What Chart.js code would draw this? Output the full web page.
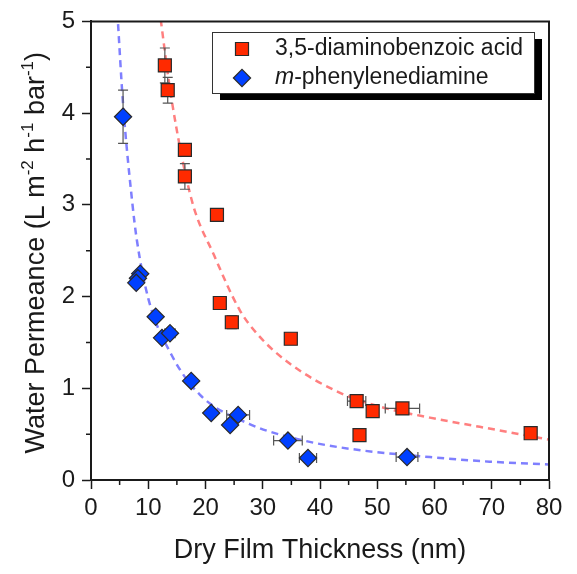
<!DOCTYPE html>
<html>
<head>
<meta charset="utf-8">
<script src="https://cdn.jsdelivr.net/npm/chart.js@4.4.0/dist/chart.umd.min.js"></script>
<style>
  html, body { margin: 0; padding: 0; background: #fff; }
  #wrap { width: 577px; height: 574px; }
</style>
</head>
<body>
<div id="wrap"><canvas id="chart" width="577" height="574"></canvas></div>
<script>
"use strict";

// 3,5-diaminobenzoic acid
const daxThickness = [12.9, 13.4, 16.4, 16.4, 22.0, 22.5, 24.6, 34.9, 46.4, 49.2, 54.4, 46.9, 76.8];
const daxFlux      = [4.52, 4.25, 3.60, 3.31, 2.89, 1.93, 1.72, 1.54, 0.86, 0.75, 0.78, 0.49, 0.51];
const daxFluxErr   = [0.19, 0.14, 0.03, 0.14, 0, 0, 0.07, 0, 0, 0, 0, 0, 0];
const daxThickErr  = [0, 0, 0, 0, 0, 0, 0, 0, 1.6, 0, 3.0, 0, 0];

// m-phenylenediamine
const mpdThickness = [5.6, 8.6, 8.2, 7.9, 11.3, 12.4, 13.8, 17.5, 21.0, 24.3, 25.7, 34.4, 37.9, 55.2];
const mpdFlux      = [3.96, 2.25, 2.20, 2.15, 1.78, 1.55, 1.60, 1.08, 0.73, 0.60, 0.71, 0.43, 0.24, 0.25];
const mpdFluxErr   = [0.29, 0, 0, 0, 0, 0, 0, 0, 0, 0, 0, 0, 0, 0];
const mpdThickErr  = [0, 0, 0, 0, 0, 0, 0.9, 0, 0, 0, 2.0, 2.5, 1.5, 1.9];

// dashed fit curves
const daxFitX = [11.9, 14.1, 17.6, 21.5, 26.0, 29.5, 34.7, 43.5, 50.4, 59.2, 67.9, 80];
const daxFitY = [5.15, 4.14, 3.05, 2.45, 1.85, 1.56, 1.27, 0.95, 0.80, 0.68, 0.58, 0.44];
const mpdFitX = [4.6, 5.6, 7.2, 8.0, 10.0, 14.1, 19.0, 27.7, 36.5, 45.2, 59.2, 69.6, 80];
const mpdFitY = [5.1, 4.1, 3.03, 2.62, 1.98, 1.36, 0.93, 0.61, 0.44, 0.34, 0.25, 0.20, 0.17];

const xTicks = [0, 10, 20, 30, 40, 50, 60, 70, 80];
const yTicks = [0, 1, 2, 3, 4, 5];
const xMinorTicks = [5, 15, 25, 35, 45, 55, 65, 75];
const yMinorTicks = [0.5, 1.5, 2.5, 3.5, 4.5];

const RED = '#ff2a00';
const BLUE = '#0040ff';
const INK = '#1a1a1a';
const FONT = "'Liberation Sans', Arial, Helvetica, sans-serif";

Chart.defaults.font.family = FONT;
Chart.defaults.color = INK;

const toPoints = (xs, ys) => xs.map((x, i) => ({ x: x, y: ys[i] }));

// error bars go on top of the fit lines but under the markers
const errorBars = {
    id: 'errorBars',
    afterDatasetDraw(chart, args) {
        if (args.index !== 2) return;
        const ctx = chart.ctx;
        const xs = chart.scales.x, ys = chart.scales.y;
        const sets = [
            [daxThickness, daxFlux, daxThickErr, daxFluxErr],
            [mpdThickness, mpdFlux, mpdThickErr, mpdFluxErr]
        ];
        const cap = 5;
        ctx.save();
        ctx.strokeStyle = '#555';
        ctx.lineWidth = 1.2;
        sets.forEach(([tx, fy, ex, ey]) => {
            tx.forEach((x, i) => {
                const px = xs.getPixelForValue(x);
                const py = ys.getPixelForValue(fy[i]);
                ctx.beginPath();
                if (ey[i] > 0) {
                    const t = ys.getPixelForValue(fy[i] + ey[i]);
                    const b = ys.getPixelForValue(fy[i] - ey[i]);
                    ctx.moveTo(px, t); ctx.lineTo(px, b);
                    ctx.moveTo(px - cap, t); ctx.lineTo(px + cap, t);
                    ctx.moveTo(px - cap, b); ctx.lineTo(px + cap, b);
                }
                if (ex[i] > 0) {
                    const l = xs.getPixelForValue(x - ex[i]);
                    const r = xs.getPixelForValue(x + ex[i]);
                    ctx.moveTo(l, py); ctx.lineTo(r, py);
                    ctx.moveTo(l, py - cap); ctx.lineTo(l, py + cap);
                    ctx.moveTo(r, py - cap); ctx.lineTo(r, py + cap);
                }
                ctx.stroke();
            });
        });
        ctx.restore();
    }
};

// widths of a run of text pieces, some raised and smaller, some italic
function measurePieces(ctx, pieces, size) {
    return pieces.map(p => {
        ctx.font = (p.italic ? 'italic ' : '') + (p.sup ? Math.round(size * 0.62) : size) + 'px ' + FONT;
        return ctx.measureText(p.t).width;
    });
}

const frameAndLabels = {
    id: 'frameAndLabels',
    afterDraw(chart) {
        const ctx = chart.ctx;
        const a = chart.chartArea;
        const xs = chart.scales.x, ys = chart.scales.y;
        ctx.save();

        // closing frame on top and right
        ctx.strokeStyle = INK;
        ctx.lineWidth = 2;
        ctx.beginPath();
        ctx.moveTo(a.left, a.top); ctx.lineTo(a.right, a.top); ctx.lineTo(a.right, a.bottom);
        ctx.stroke();

        // minor ticks
        ctx.lineWidth = 1.5;
        ctx.beginPath();
        xMinorTicks.forEach(v => {
            const px = xs.getPixelForValue(v);
            ctx.moveTo(px, a.bottom); ctx.lineTo(px, a.bottom + 5);
        });
        yMinorTicks.forEach(v => {
            const py = ys.getPixelForValue(v);
            ctx.moveTo(a.left, py); ctx.lineTo(a.left - 5, py);
        });
        ctx.stroke();

        // y axis title with superscripts
        const size = 27;
        const pieces = [
            { t: 'Water Permeance (L m' }, { t: '-2', sup: true },
            { t: ' h' }, { t: '-1', sup: true },
            { t: ' bar' }, { t: '-1', sup: true }, { t: ')' }
        ];
        const widths = measurePieces(ctx, pieces, size);
        const total = widths.reduce((s, w) => s + w, 0);
        ctx.translate(44, (a.top + a.bottom) / 2 + 2);
        ctx.rotate(-Math.PI / 2);
        ctx.fillStyle = INK;
        ctx.textBaseline = 'alphabetic';
        let x = -total / 2;
        pieces.forEach((p, i) => {
            ctx.font = (p.sup ? Math.round(size * 0.62) : size) + 'px ' + FONT;
            ctx.fillText(p.t, x, p.sup ? -11 : 0);
            x += widths[i];
        });
        ctx.restore();

        // legend box with drop shadow
        ctx.save();
        const box = { l: 212, t: 32, r: 534, b: 93 };
        ctx.fillStyle = '#000';
        ctx.fillRect(box.l + 8, box.t + 7, box.r - box.l, box.b - box.t);
        ctx.fillStyle = '#fff';
        ctx.fillRect(box.l, box.t, box.r - box.l, box.b - box.t);
        ctx.strokeStyle = '#333';
        ctx.lineWidth = 1;
        ctx.strokeRect(box.l + 0.5, box.t + 0.5, box.r - box.l, box.b - box.t);

        const entries = [
            { ds: chart.data.datasets[0], y: 49, pieces: [{ t: '3,5-diaminobenzoic acid' }] },
            { ds: chart.data.datasets[1], y: 78, pieces: [{ t: 'm', italic: true }, { t: '-phenylenediamine' }] }
        ];
        entries.forEach(e => {
            ctx.fillStyle = e.ds.backgroundColor;
            ctx.strokeStyle = e.ds.borderColor;
            ctx.lineWidth = e.ds.borderWidth;
            Chart.helpers.drawPoint(ctx, { pointStyle: e.ds.pointStyle, radius: e.ds.pointRadius, rotation: 0, borderWidth: e.ds.borderWidth }, 242, e.y);
            const w = measurePieces(ctx, e.pieces, 23);
            let tx = 275;
            ctx.fillStyle = INK;
            ctx.textBaseline = 'middle';
            e.pieces.forEach((p, i) => {
                ctx.font = (p.italic ? 'italic ' : '') + '23px ' + FONT;
                ctx.fillText(p.t, tx, e.y);
                tx += w[i];
            });
        });
        ctx.restore();
    }
};

new Chart(document.getElementById('chart'), {
    type: 'scatter',
    data: {
        datasets: [{
            label: '3,5-diaminobenzoic acid',
            data: toPoints(daxThickness, daxFlux),
            pointStyle: 'rect',
            pointRadius: 9.2,
            backgroundColor: RED,
            borderColor: '#2a2a2a',
            borderWidth: 1.2
        }, {
            label: 'm-phenylenediamine',
            data: toPoints(mpdThickness, mpdFlux),
            pointStyle: 'rectRot',
            pointRadius: 8.6,
            backgroundColor: BLUE,
            borderColor: '#2a2a2a',
            borderWidth: 1.2
        }, {
            label: 'fit dax',
            data: toPoints(daxFitX, daxFitY),
            showLine: true,
            pointRadius: 0,
            borderColor: 'rgba(255, 120, 120, 0.95)',
            borderWidth: 2.5,
            borderDash: [7, 5],
            cubicInterpolationMode: 'monotone',
            fill: false
        }, {
            label: 'fit mpd',
            data: toPoints(mpdFitX, mpdFitY),
            showLine: true,
            pointRadius: 0,
            borderColor: 'rgba(120, 120, 255, 0.95)',
            borderWidth: 2.5,
            borderDash: [7, 5],
            cubicInterpolationMode: 'monotone',
            fill: false
        }]
    },
    options: {
        responsive: false,
        animation: false,
        layout: { padding: { left: 0, right: 28, top: 20, bottom: 0 } },
        plugins: {
            legend: { display: false },
            tooltip: { enabled: false }
        },
        scales: {
            x: {
                type: 'linear',
                min: 0,
                max: 80,
                afterBuildTicks: s => { s.ticks = xTicks.map(v => ({ value: v })); },
                afterFit: s => { s.height = 94; },
                ticks: { padding: 5, color: INK, font: { size: 24 } },
                grid: { drawOnChartArea: false, tickLength: 9, tickColor: INK, tickWidth: 1.5 },
                border: { color: INK, width: 2 },
                title: {
                    display: true,
                    text: 'Dry Film Thickness (nm)',
                    color: INK,
                    font: { size: 27 },
                    padding: { top: 0, bottom: 7 }
                }
            },
            y: {
                min: 0,
                max: 5,
                afterBuildTicks: s => { s.ticks = yTicks.map(v => ({ value: v })); },
                afterFit: s => { s.width = 91; },
                ticks: { padding: 7, color: INK, font: { size: 24 } },
                grid: { drawOnChartArea: false, tickLength: 9, tickColor: INK, tickWidth: 1.5 },
                border: { color: INK, width: 2 }
            }
        }
    },
    plugins: [errorBars, frameAndLabels]
});
</script>
</body>
</html>
